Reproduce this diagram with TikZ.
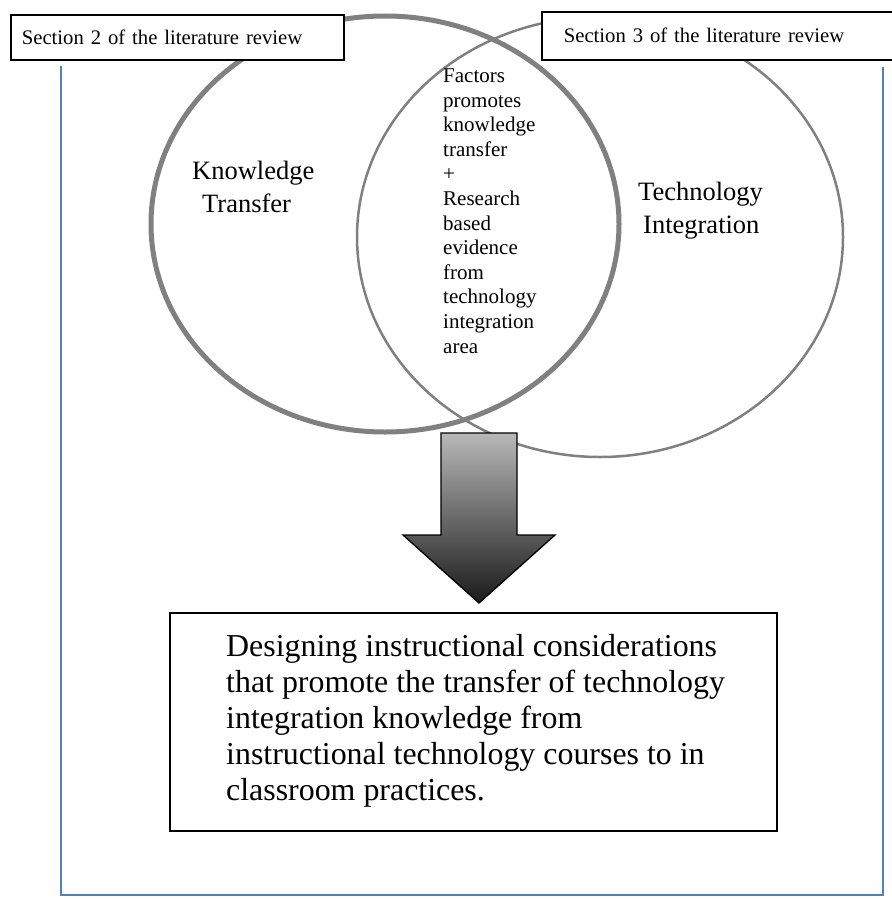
\documentclass[tikz,border=0pt]{standalone}
\usepackage{fontspec}
\setmainfont{Liberation Serif}
\definecolor{frameblue}{HTML}{4F81BD}
\definecolor{ringgray}{HTML}{808080}
\definecolor{arrowtop}{HTML}{B8B8B8}
\definecolor{arrowbot}{HTML}{1A1A1A}
\begin{document}
\begin{tikzpicture}[x=1pt,y=-1pt,
  frameline/.style={draw=frameblue, line width=1.6pt},
  ringthick/.style={draw=ringgray, line width=5pt},
  ringthin/.style={draw=ringgray, line width=2.5pt},
  secbox/.style={draw=black, line width=1.6pt, fill=white, anchor=north west, align=left,
    font=\fontsize{20.7pt}{24pt}\selectfont},
  smalltext/.style={anchor=base west, align=left, inner sep=0pt,
    font=\fontsize{21pt}{24.6pt}\selectfont},
  midtext/.style={anchor=base west, align=left, inner sep=0pt,
    font=\fontsize{26.5pt}{32.5pt}\selectfont},
  bigtext/.style={anchor=base west, align=left, inner sep=0pt,
    font=\fontsize{31.9pt}{36pt}\selectfont},
  outbox/.style={draw=black, line width=2pt, fill=white, anchor=north west},
  bigarrow/.style={draw=black, line width=1.3pt, top color=arrowtop, bottom color=arrowbot}
]
\useasboundingbox (0,0) rectangle (891,899);

% blue frame (open at top)
\coordinate (fTL) at (61,66);
\coordinate (fBL) at (61,895);
\coordinate (fBR) at (883,895);
\coordinate (fTR) at (883,67);
\draw[frameline] (fTL) -- (fBL) -- (fBR) -- (fTR);

% two overlapping ellipses
\coordinate (cKT) at (385,224);
\coordinate (cTI) at (600,237);
\draw[ringthick] (cKT) ellipse [x radius=234, y radius=208];
\draw[ringthin] (cTI) ellipse [x radius=243, y radius=220];

% section boxes
\node[secbox, minimum width=333pt, minimum height=45pt, inner xsep=11pt, text width=311pt]
  (sec2) at (10,14) {Section 2 of the literature review};
\node[secbox, minimum width=351pt, minimum height=48pt, inner xsep=22pt, text width=307pt]
  (sec3) at (541,11) {Section 3 of the literature review};

% circle labels (base anchor = baseline of last line)
\node[midtext] (kt) at (192,212) {Knowledge\\\hspace*{10pt}Transfer};
\node[midtext] (ti) at (638,233) {Technology\\\hspace*{5pt}Integration};
\node[smalltext] (mid) at (443,353) {Factors\\promotes\\knowledge\\transfer\\+\\Research\\based\\evidence\\from\\technology\\integration\\area};

% big arrow
\coordinate (a1) at (441,433);
\coordinate (a2) at (517,433);
\coordinate (a3) at (517,535);
\coordinate (a4) at (555,535);
\coordinate (a5) at (479,603);
\coordinate (a6) at (403,535);
\coordinate (a7) at (441,535);
\path[bigarrow] (a1) -- (a2) -- (a3) -- (a4) -- (a5) -- (a6) -- (a7) -- cycle;

% outcome box
\node[outbox, minimum width=607pt, minimum height=218pt] (out) at (169,612) {};
\node[bigtext] (outtext) at (226,800) {Designing instructional considerations\\that promote the transfer of technology\\integration knowledge from\\instructional technology courses to in\\classroom practices.};
\end{tikzpicture}
\end{document}
